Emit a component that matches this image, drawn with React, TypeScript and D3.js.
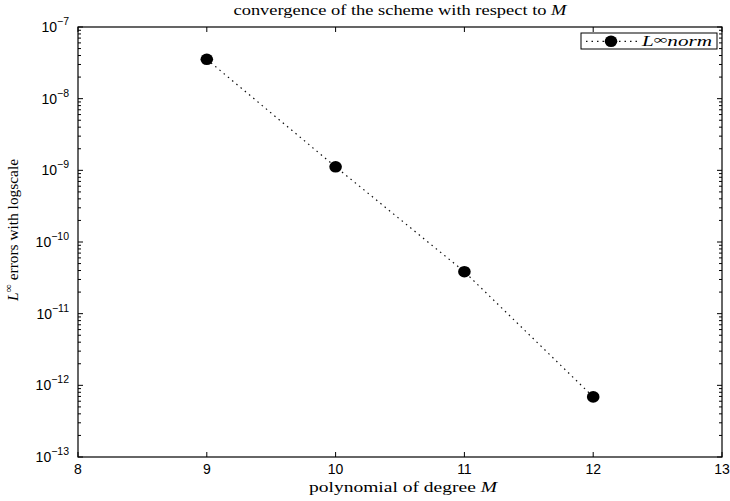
import React from 'react';
import * as d3 from 'd3';

const degrees = [9, 10, 11, 12];
const errors = [3.54e-8, 1.12e-9, 3.85e-11, 6.9e-13];
const xTicks = [8, 9, 10, 11, 12, 13];
const yExponents = [-7, -8, -9, -10, -11, -12, -13];
const titleText = 'convergence of the scheme with respect to ';
const xLabelText = 'polynomial of degree ';
const yLabelText = ' errors with logscale';
const legendText = 'norm';

export default function App() {
  const W = 730, H = 501;
  const L = 78, R = 722, T = 27, B = 457;
  const x = d3.scaleLinear().domain([8, 13]).range([L, R]);
  const y = d3.scaleLog().domain([1e-13, 1e-7]).range([B, T]);
  const pts = degrees.map((d, i) => [d, errors[i]] as [number, number]);
  const line = d3.line<[number, number]>().x(d => x(d[0])).y(d => y(d[1]));

  const minor: number[] = [];
  for (let e = -13; e < -7; e++) {
    for (let k = 2; k <= 9; k++) minor.push(k * Math.pow(10, e));
  }

  const serif = '"Liberation Serif", "DejaVu Serif", serif';
  const sans = '"Liberation Sans", Arial, sans-serif';
  const dash = '1.5 4';

  return (
    <svg width={W} height={H} style={{ position: 'absolute', left: 0, top: 0, background: '#fff' }}>
      <rect x={0} y={0} width={W} height={H} fill="#fff" />
      {/* data line */}
      <path d={line(pts) || ''} fill="none" stroke="#111" strokeWidth={1.2} strokeDasharray={dash} />
      {pts.map((p, i) => (
        <ellipse key={i} cx={x(p[0])} cy={y(p[1])} rx={6.3} ry={5.8} fill="#000" />
      ))}
      {/* axes box */}
      <rect x={L} y={T} width={R - L} height={B - T} fill="none" stroke="#000" strokeWidth={1.2} />
      {/* x ticks */}
      {xTicks.map(t => (
        <g key={'x' + t}>
          <line x1={x(t)} x2={x(t)} y1={B} y2={B - 5} stroke="#000" />
          <line x1={x(t)} x2={x(t)} y1={T} y2={T + 5} stroke="#000" />
          <text x={x(t)} y={474} textAnchor="middle" fontFamily={sans} fontSize={14}>{t}</text>
        </g>
      ))}
      {/* y major ticks */}
      {yExponents.map(e => {
        const yy = y(Math.pow(10, e));
        return (
          <g key={'y' + e}>
            <line x1={L} x2={L + 5} y1={yy} y2={yy} stroke="#000" />
            <line x1={R} x2={R - 5} y1={yy} y2={yy} stroke="#000" />
            <text x={69} y={yy + 5} textAnchor="end" fontFamily={sans} fontSize={14}>
              10<tspan dy={-7} fontSize={10.5}>{'\u2212' + Math.abs(e)}</tspan>
            </text>
          </g>
        );
      })}
      {minor.map((v, i) => (
        <g key={'m' + i}>
          <line x1={L} x2={L + 3} y1={y(v)} y2={y(v)} stroke="#000" />
          <line x1={R} x2={R - 3} y1={y(v)} y2={y(v)} stroke="#000" />
        </g>
      ))}
      {/* title */}
      <text x={(L + R) / 2} y={15} textAnchor="middle" fontFamily={serif} fontSize={14.5}
        textLength={333} lengthAdjust="spacingAndGlyphs">
        {titleText}<tspan fontStyle="italic">M</tspan>
      </text>
      {/* x label */}
      <text x={(L + R) / 2 + 3} y={492} textAnchor="middle" fontFamily={serif} fontSize={14.5}
        textLength={188} lengthAdjust="spacingAndGlyphs">
        {xLabelText}<tspan fontStyle="italic">M</tspan>
      </text>
      {/* y label */}
      <text transform={`translate(18, 230) rotate(-90)`} textAnchor="middle" fontFamily={serif} fontSize={14.5}
        textLength={142} lengthAdjust="spacingAndGlyphs">
        <tspan fontStyle="italic">L</tspan>
        <tspan dy={-6} fontSize={11}>{'\u221E'}</tspan>
        <tspan dy={6}>{yLabelText}</tspan>
      </text>
      {/* legend */}
      <rect x={581} y={33} width={136} height={16} fill="#fff" stroke="#000" strokeWidth={1} />
      <line x1={586} x2={637} y1={41.3} y2={41.3} stroke="#111" strokeWidth={1.2} strokeDasharray={dash} />
      <ellipse cx={611} cy={41.3} rx={6.3} ry={5.8} fill="#000" />
      <text x={642} y={46} fontFamily={serif} fontSize={14.5} fontStyle="italic"
        textLength={70} lengthAdjust="spacingAndGlyphs">
        L<tspan dy={-2} fontSize={13}>{'\u221E'}</tspan><tspan dy={2}>{legendText}</tspan>
      </text>
    </svg>
  );
}
